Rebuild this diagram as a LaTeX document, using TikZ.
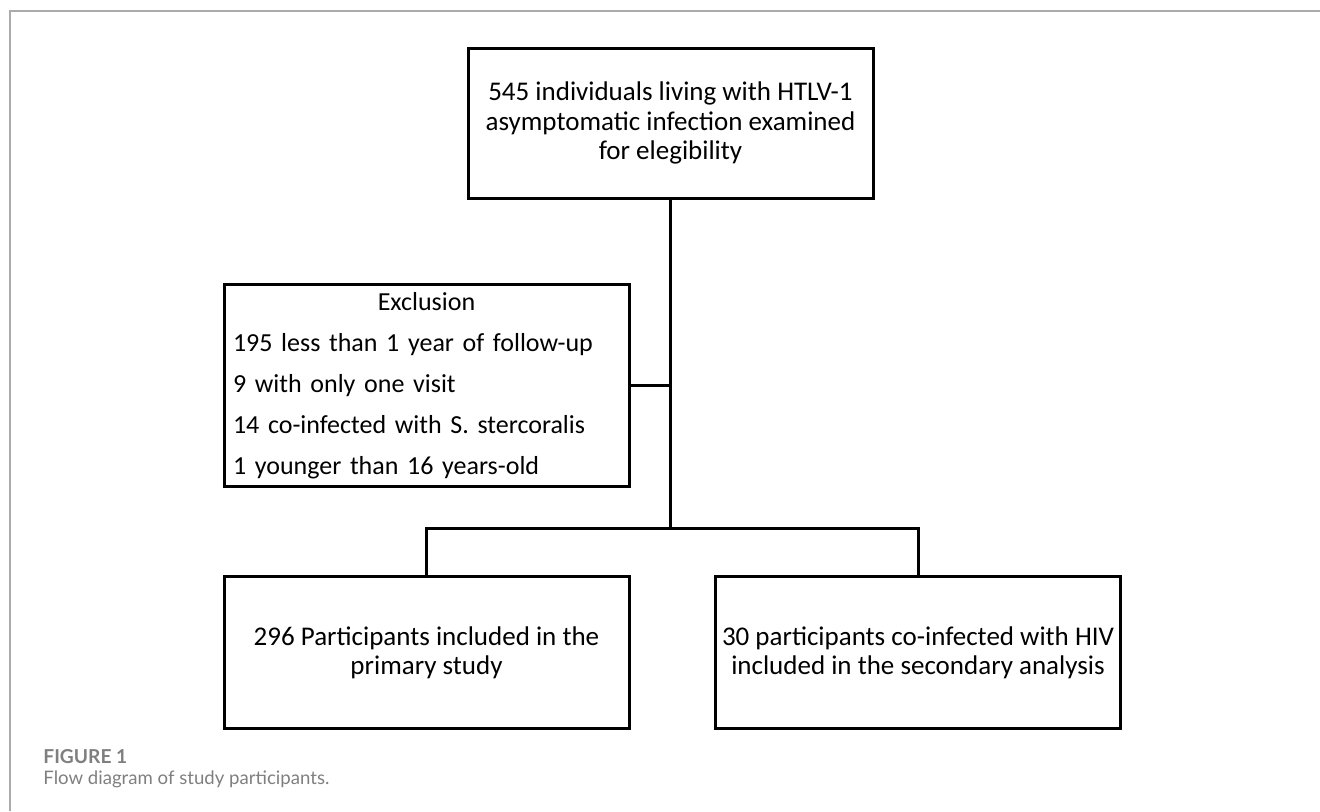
\documentclass[tikz,border=0pt]{standalone}
\usepackage{fontspec}
\setmainfont{Carlito}
\newfontfamily\capfont{Lato}
\usepackage{tikz}
\usetikzlibrary{positioning, calc}
\definecolor{FDink}{HTML}{000000}
\definecolor{FDframe}{HTML}{ABABAB}
\definecolor{FDcap}{HTML}{7F7F7F}
\tikzset{
  fdbox/.style={
    rectangle, draw=FDink, line width=1.5pt, fill=white, text=FDink,
    align=center, inner xsep=2pt, inner ysep=4pt, minimum width=202.5pt, minimum height=76pt,
    font=\fontsize{13.5}{14.7}\selectfont},
  fdexcl/.style={fdbox, align=left, inner xsep=4pt, text width=193.5pt, minimum height=101pt,
    font=\fontsize{13}{20.5}\selectfont},
  fdlink/.style={line width=1.5pt, draw=FDink},
  fdframe/.style={line width=1pt, draw=FDframe},
  fdcaphead/.style={anchor=west, inner sep=0pt, text=FDcap,
    font=\capfont\bfseries\fontsize{9.6}{11}\selectfont},
  fdcaptext/.style={anchor=west, inner sep=0pt, text=FDcap,
    font=\capfont\fontsize{9.3}{11}\selectfont},
}
\begin{document}
\begin{tikzpicture}
  \useasboundingbox (0,0) rectangle (660pt,-405.5pt);
  \draw[fdframe] (5pt,-405.5pt) -- (5pt,-5.5pt) -- (660pt,-5.5pt);
  \node[fdbox, minimum height=75pt] (pool) at (335.25pt,-61.5pt)
    {545 individuals living with HTLV-1\\asymptomatic infection examined\\for elegibility};
  \node[fdexcl, below=41.5pt of pool, xshift=-122pt] (excl)
    {\makebox[\linewidth]{Exclusion}\\195 less than 1 year of follow-up\\9 with only one visit\\14 co-infected with S. stercoralis\\1 younger than 16 years-old};
  \node[fdbox, below=43.5pt of excl] (prim){296 Participants included in the\\primary study};
  \node[fdbox, right=41.75pt of prim] (sec){30 participants co-infected with HIV\\included in the secondary analysis};
  \coordinate[below=164.5pt of pool.south] (fork);
  \draw[fdlink](pool.south)--(fork);\draw[fdlink](excl.east)--(excl.east -| fork);
  \draw[fdlink](prim.north)|-(fork)-|(sec.north);
  \node[fdcaphead] (fig) at (21.5pt,-378.5pt){FIGURE 1};
  \node[fdcaptext] (cap) at (21.5pt,-389.8pt){Flow diagram of study participants.};
\end{tikzpicture}
\end{document}
